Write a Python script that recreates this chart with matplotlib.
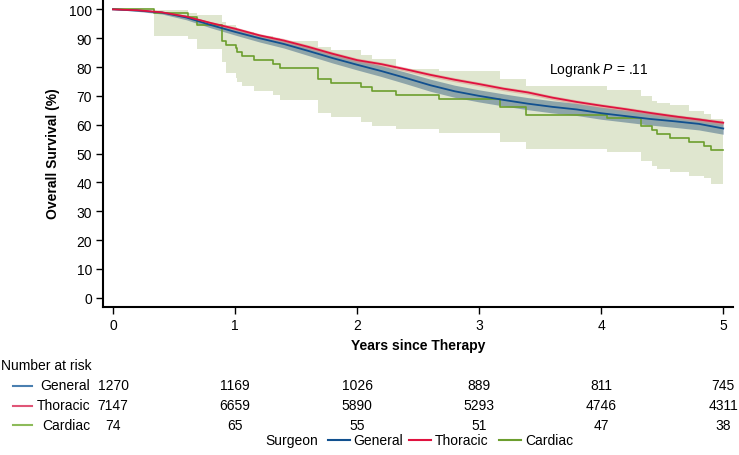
import matplotlib
matplotlib.use("Agg")
import matplotlib.pyplot as plt
from matplotlib.lines import Line2D
from matplotlib.transforms import blended_transform_factory

plt.rcParams['font.family'] = ['Liberation Sans', 'DejaVu Sans']
plt.rcParams['mathtext.fontset'] = 'custom'
plt.rcParams['mathtext.rm'] = 'Liberation Sans'
plt.rcParams['mathtext.it'] = 'Liberation Sans:italic'

# ---------------- data ----------------
groups = ["General", "Thoracic", "Cardiac"]
line_colors = ["#11508f", "#e0123f", "#6c9e2e"]
table_line_colors = ["#4a7fb0", "#e05577", "#8dbb5a"]

# General (KM read at grid)
general_t = [0.0, 0.2, 0.4, 0.6, 0.8, 1.0, 1.2, 1.4, 1.6, 1.8, 2.0, 2.2, 2.4, 2.6,
             2.8, 3.0, 3.2, 3.4, 3.6, 3.8, 4.0, 4.2, 4.4, 4.6, 4.8, 5.0]
general_s = [100.0, 99.6, 98.9, 97.2, 94.6, 92.2, 90.0, 88.0, 85.6, 83.1, 80.8, 78.6, 76.2, 73.7,
             71.6, 70.0, 68.6, 67.3, 66.2, 65.3, 64.0, 63.0, 62.0, 61.2, 60.3, 58.7]
general_lo = [100.0, 99.3, 98.4, 96.4, 93.6, 91.1, 88.7, 86.6, 84.0, 81.4, 79.0, 76.7, 74.2, 71.6,
              69.5, 67.9, 66.5, 65.2, 64.1, 63.2, 61.9, 60.9, 59.9, 59.1, 58.2, 56.7]
general_hi = [100.0, 99.9, 99.4, 98.0, 95.6, 93.3, 91.3, 89.4, 87.2, 84.8, 82.6, 80.5, 78.2, 75.8,
              73.7, 72.1, 70.7, 69.4, 68.3, 67.4, 66.1, 65.1, 64.1, 63.3, 62.4, 60.7]

# Thoracic
thoracic_t = general_t
thoracic_s = [100.0, 99.7, 99.0, 97.5, 95.3, 93.3, 91.0, 89.2, 87.0, 84.6, 82.4, 81.0, 79.2, 77.3,
              75.6, 74.1, 72.5, 71.2, 69.4, 67.9, 66.6, 65.4, 64.1, 62.9, 61.8, 60.7]
thoracic_lo = [100.0, 99.5, 98.7, 97.1, 94.8, 92.7, 90.4, 88.5, 86.3, 83.9, 81.7, 80.3, 78.5, 76.6,
               74.9, 73.4, 71.8, 70.5, 68.7, 67.2, 65.9, 64.7, 63.4, 62.2, 61.1, 60.0]
thoracic_hi = [100.0, 99.9, 99.3, 97.9, 95.8, 93.9, 91.6, 89.9, 87.7, 85.3, 83.1, 81.7, 79.9, 78.0,
               76.3, 74.8, 73.2, 71.9, 70.1, 68.6, 67.3, 66.1, 64.8, 63.6, 62.5, 61.4]

# Cardiac (step function)
cardiac_t = [0.0, 0.336, 0.615, 0.69, 0.89, 0.925, 1.006, 1.02, 1.06, 1.155, 1.31, 1.37, 1.68,
             1.79, 2.03, 2.12, 2.32, 2.675, 3.17, 3.38, 4.05, 4.33, 4.42, 4.46, 4.56, 4.72,
             4.84, 4.90, 5.0]
cardiac_s = [100.0, 98.6, 97.3, 94.6, 89.2, 87.8, 86.5, 85.1, 83.8, 82.4, 81.1, 79.7, 75.7,
             74.3, 73.0, 71.6, 70.3, 68.9, 66.2, 63.5, 62.2, 59.5, 58.1, 56.8, 55.4, 54.1,
             52.7, 51.4, 51.4]
cardiac_lo = [100.0, 90.8, 89.7, 86.2, 81.6, 78.1, 76.2, 74.7, 73.3, 71.8, 70.3, 68.7, 64.0,
              62.8, 61.1, 59.6, 58.5, 57.0, 54.1, 51.6, 50.4, 47.5, 45.8, 44.6, 43.5, 42.1,
              41.5, 39.4, 39.4]
cardiac_hi = [100.0, 99.8, 98.9, 98.1, 95.5, 94.5, 93.8, 93.0, 92.0, 90.8, 90.0, 89.0, 86.8,
              85.8, 84.2, 82.8, 79.5, 78.7, 75.8, 73.5, 72.1, 70.0, 68.1, 67.5, 66.8, 64.6,
              63.8, 62.0, 62.0]

at_risk_times = [0, 1, 2, 3, 4, 5]
at_risk = {
    "General": [1270, 1169, 1026, 889, 811, 745],
    "Thoracic": [7147, 6659, 5890, 5293, 4746, 4311],
    "Cardiac": [74, 65, 55, 51, 47, 38],
}
x_ticks = [0, 1, 2, 3, 4, 5]
y_ticks = [0, 10, 20, 30, 40, 50, 60, 70, 80, 90, 100]

# ---------------- figure ----------------
W, H = 739, 456
fig = plt.figure(figsize=(W / 100, H / 100), dpi=100)

def fx(px):
    return px / W

def fy(py):
    return 1 - py / H

ax = fig.add_axes([fx(103), fy(308), fx(733) - fx(103), fy(0) - fy(308)])
ax.set_xlim(-0.082, 5.08)
ax.set_ylim(-3.2, 103.6)

# cardiac CI (lowest)
ax.fill_between(cardiac_t, cardiac_lo, cardiac_hi, step='post', color='#dfe6cf', lw=0, zorder=1)
# general CI
ax.fill_between(general_t, general_lo, general_hi, color='#3f6585', alpha=0.5, lw=0, zorder=2)
# thoracic CI
ax.fill_between(thoracic_t, thoracic_lo, thoracic_hi, color='#e08a80', alpha=0.5, lw=0, zorder=3)

ax.step(cardiac_t, cardiac_s, where='post', color=line_colors[2], lw=1.2, zorder=4)
ax.plot(general_t, general_s, color=line_colors[0], lw=1.3, zorder=5)
ax.plot(thoracic_t, thoracic_s, color=line_colors[1], lw=1.3, zorder=6)

for s in ['top', 'right']:
    ax.spines[s].set_visible(False)
for s in ['left', 'bottom']:
    ax.spines[s].set_linewidth(1.5)
ax.set_xticks(x_ticks)
ax.set_yticks(y_ticks)
ax.tick_params(axis='both', direction='out', length=5, width=1.0, labelsize=10, pad=3)
ax.set_xlabel("Years since Therapy", fontsize=10, fontweight='bold', labelpad=4)
ax.set_ylabel("Overall Survival (%)", fontsize=10, fontweight='bold', labelpad=6)

ax.text(3.57, 79.3, "Logrank $\\it{P}$ = .11", fontsize=10, va='center', ha='left')

# ---------------- number at risk table ----------------
fs = 10
fig.text(fx(1), fy(366), "Number at risk", fontsize=fs, ha='left', va='center')
trans = blended_transform_factory(ax.transData, fig.transFigure)
row_y = [386.5, 406.5, 426]
for g, c, yy in zip(groups, table_line_colors, row_y):
    fig.add_artist(Line2D([fx(13), fx(32)], [fy(yy), fy(yy)], color=c, lw=1.5))
    fig.text(fx(90), fy(yy), g, fontsize=fs, ha='right', va='center')
    for t, n in zip(at_risk_times, at_risk[g]):
        ax.text(t, fy(yy), str(n), transform=trans, fontsize=fs, ha='center', va='center', clip_on=False)

# ---------------- legend ----------------
ly = 441
fig.text(fx(265), fy(ly), "Surgeon", fontsize=fs, ha='left', va='center')
leg_items = [(328, 353, "General"), (409, 435, "Thoracic"), (499, 525, "Cardiac")]
for (lx, tx, lab), c in zip(leg_items, line_colors):
    fig.add_artist(Line2D([fx(lx), fx(lx + 22)], [fy(ly), fy(ly)], color=c, lw=1.5))
    fig.text(fx(tx), fy(ly), lab, fontsize=fs, ha='left', va='center')

fig.savefig("out.png", dpi=100)
